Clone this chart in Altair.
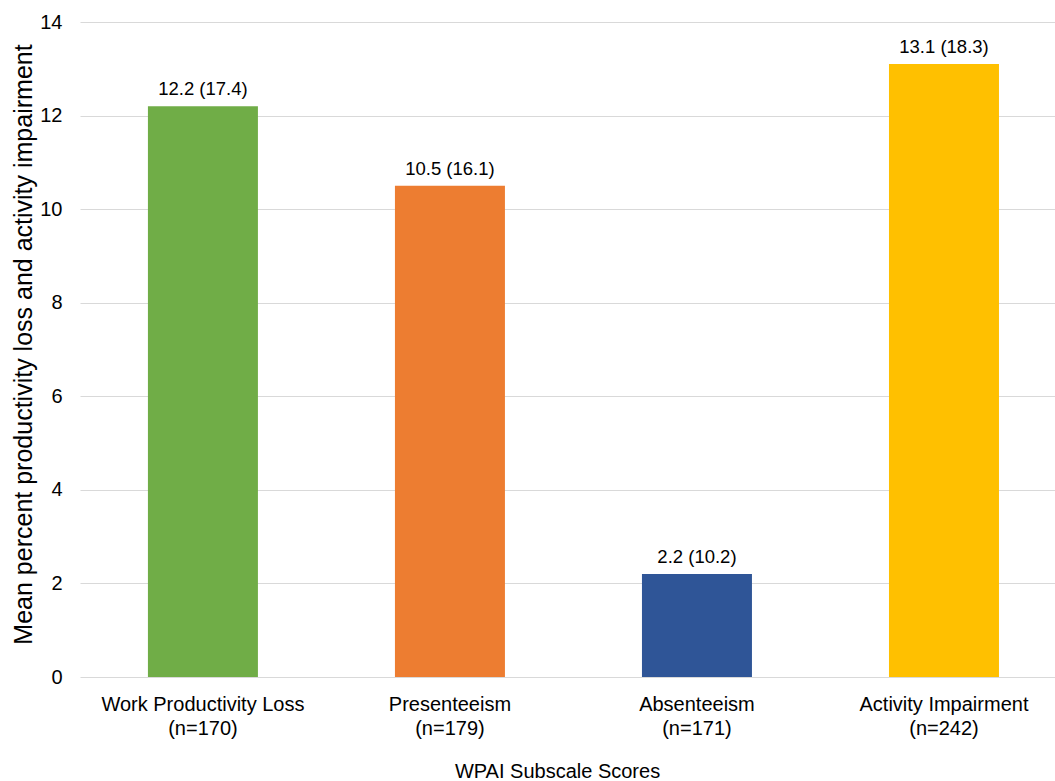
import altair as alt
import pandas as pd

# WPAI subscale summary: mean (SD) and sample size per subscale
subscales = ["Work Productivity Loss", "Presenteeism", "Absenteeism", "Activity Impairment"]
sample_sizes = [170, 179, 171, 242]
means = [12.2, 10.5, 2.2, 13.1]
sds = [17.4, 16.1, 10.2, 18.3]
bar_colors = ["#70AD47", "#ED7D31", "#2F5597", "#FFC000"]
y_ticks = [0, 2, 4, 6, 8, 10, 12, 14]

df = pd.DataFrame({
    "category": [f"{s}|(n={n})" for s, n in zip(subscales, sample_sizes)],
    "mean": means,
    "label": [f"{m:.1f} ({s:.1f})" for m, s in zip(means, sds)],
})

FONT = "Liberation Sans"
order = list(df["category"])

x_enc = alt.X(
    "category:N",
    sort=order,
    scale=alt.Scale(paddingInner=0.5547, paddingOuter=0.2509, align=0.548),
    axis=alt.Axis(
        title="WPAI Subscale Scores",
        labelExpr="split(datum.label, '|')",
        labelAngle=0,
        labelLimit=0,
        labelFont=FONT,
        labelFontSize=20,
        labelColor="#000000",
        labelLineHeight=24,
        labelBaseline="top",
        labelPadding=17,
        ticks=False,
        domain=False,
        grid=False,
        titleFont=FONT,
        titleFontSize=20,
        titleFontWeight="normal",
        titleColor="#000000",
        titleX=477,
        titleY=100,
        titleAlign="center",
        titleBaseline="alphabetic",
    ),
)

y_enc = alt.Y(
    "mean:Q",
    scale=alt.Scale(domain=[0, 14], nice=False),
    axis=alt.Axis(
        title="Mean percent productivity loss and activity impairment",
        values=y_ticks,
        labelFont=FONT,
        labelFontSize=20,
        labelColor="#000000",
        labelPadding=18,
        ticks=False,
        domain=False,
        grid=True,
        gridColor="#D9D9D9",
        gridWidth=1.2,
        titleFont=FONT,
        titleFontSize=25,
        titleFontWeight="normal",
        titleColor="#000000",
        titleAngle=270,
        titleX=-57,
        titleY=322,
        titleAlign="center",
        titleBaseline="middle",
    ),
)

bars = alt.Chart(df).mark_bar().encode(
    x=x_enc,
    y=y_enc,
    color=alt.Color("category:N", sort=order,
                    scale=alt.Scale(domain=order, range=bar_colors), legend=None),
)

labels = alt.Chart(df).mark_text(
    font=FONT, fontSize=18.5, color="#000000", baseline="alphabetic", dy=-11
).encode(
    x=alt.X("category:N", sort=order),
    y=alt.Y("mean:Q"),
    text="label:N",
)

chart = (
    alt.layer(bars, labels)
    .properties(
        width=975,
        height=655,
        autosize=alt.AutoSizeParams(type="none"),
        padding={"left": 80, "top": 22, "right": 0, "bottom": 104},
        background="#ffffff",
    )
    .configure_view(stroke=None)
)

chart.save("out.html", embed_options={"renderer": "svg", "actions": False})
